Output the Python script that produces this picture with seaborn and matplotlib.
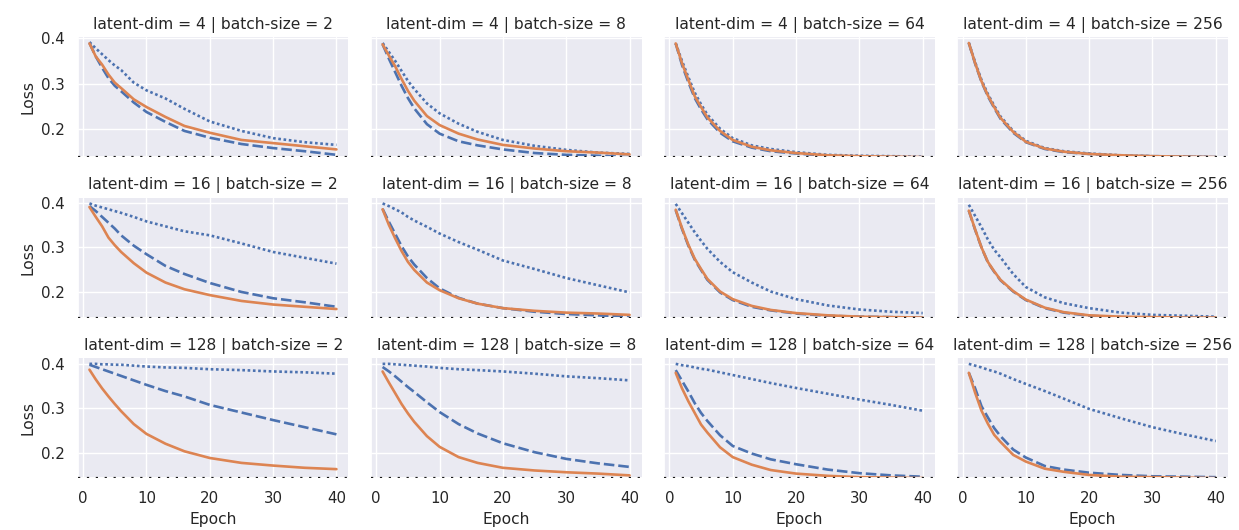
import matplotlib
matplotlib.use("Agg")
import pandas as pd
import seaborn as sns
import matplotlib.pyplot as plt

# values, one list per batch size (2, 8, 64, 256)
epochs = [1, 2, 3, 4, 5, 6, 8, 10, 13, 16, 20, 25, 30, 35, 40]
latent_dims = [4, 16, 128]
batch_sizes = [2, 8, 64, 256]
runs = ["dotted", "dashed", "solid"]

ld4_dotted = [
    [.392, .378, .365, .352, .340, .330, .302, .285, .267, .244, .216, .195, .179, .170, .164],
    [.390, .370, .350, .328, .306, .288, .256, .234, .211, .193, .175, .162, .153, .147, .144],
    [.389, .350, .314, .280, .254, .231, .200, .179, .163, .155, .148, .142, .140, .139, .138],
    [.390, .347, .308, .277, .251, .227, .195, .173, .157, .150, .145, .141, .139, .138, .137],
]
ld4_dashed = [
    [.390, .360, .335, .312, .295, .283, .258, .237, .215, .195, .180, .166, .157, .150, .142],
    [.387, .355, .325, .295, .268, .245, .210, .189, .172, .163, .154, .146, .142, .140, .137],
    [.389, .341, .303, .268, .243, .221, .191, .172, .158, .150, .145, .140, .138, .137, .136],
    [.390, .344, .304, .272, .246, .222, .191, .170, .155, .148, .144, .140, .139, .138, .137],
]
ld4_solid = [
    [.389, .360, .342, .320, .302, .290, .265, .248, .226, .206, .191, .175, .168, .161, .154],
    [.387, .362, .338, .310, .284, .262, .228, .208, .189, .176, .164, .156, .150, .147, .143],
    [.389, .345, .308, .272, .248, .225, .195, .175, .160, .152, .146, .141, .139, .138, .137],
    [.390, .345, .305, .274, .248, .224, .193, .171, .156, .149, .144, .141, .139, .138, .137],
]

ld16_dotted = [
    [.398, .393, .389, .385, .381, .377, .368, .358, .347, .336, .327, .309, .290, .277, .264],
    [.398, .392, .385, .378, .368, .360, .346, .331, .312, .295, .271, .252, .232, .216, .200],
    [.397, .376, .355, .334, .315, .297, .268, .245, .222, .202, .185, .171, .162, .157, .154],
    [.395, .370, .345, .318, .295, .278, .241, .212, .189, .176, .165, .155, .150, .148, .146],
]
ld16_dashed = [
    [.392, .381, .368, .355, .342, .327, .304, .285, .259, .241, .221, .201, .187, .178, .168],
    [.386, .357, .330, .303, .280, .262, .232, .209, .188, .175, .165, .157, .152, .149, .146],
    [.383, .341, .304, .273, .250, .228, .200, .183, .168, .160, .153, .148, .146, .145, .144],
    [.382, .339, .300, .267, .246, .227, .202, .183, .165, .155, .148, .145, .144, .144, .144],
]
ld16_solid = [
    [.390, .368, .347, .322, .305, .290, .265, .244, .222, .207, .194, .181, .173, .168, .163],
    [.385, .350, .320, .292, .268, .250, .222, .205, .187, .175, .165, .159, .155, .153, .150],
    [.384, .343, .306, .275, .252, .230, .202, .185, .170, .161, .154, .149, .146, .145, .144],
    [.382, .340, .300, .268, .247, .228, .203, .184, .166, .156, .149, .146, .145, .144, .144],
]

ld128_dotted = [
    [.400, .400, .399, .399, .398, .398, .396, .394, .392, .391, .388, .386, .383, .381, .378],
    [.400, .400, .399, .398, .397, .396, .394, .391, .388, .386, .383, .378, .372, .368, .363],
    [.400, .397, .395, .392, .389, .387, .381, .375, .366, .357, .346, .333, .320, .308, .295],
    [.400, .396, .392, .387, .383, .378, .366, .355, .339, .322, .299, .278, .258, .242, .227],
]
ld128_dashed = [
    [.398, .393, .388, .383, .378, .373, .363, .353, .339, .327, .308, .291, .274, .258, .242],
    [.393, .383, .372, .360, .348, .337, .314, .292, .265, .244, .222, .202, .187, .177, .169],
    [.386, .362, .338, .312, .290, .272, .240, .216, .199, .186, .175, .163, .155, .150, .147],
    [.380, .345, .305, .280, .256, .238, .208, .190, .171, .163, .156, .151, .148, .147, .146],
]
ld128_solid = [
    [.387, .365, .345, .327, .310, .294, .265, .243, .221, .204, .189, .178, .172, .167, .164],
    [.383, .358, .334, .310, .289, .270, .238, .214, .191, .178, .167, .161, .157, .154, .150],
    [.380, .345, .316, .290, .264, .246, .213, .191, .174, .162, .154, .149, .146, .145, .144],
    [.380, .335, .295, .266, .241, .225, .196, .181, .165, .158, .151, .147, .146, .145, .144],
]

# dotted black reference line per latent dim
min_loss = [0.137, 0.144, 0.144]

curves = {
    4: [ld4_dotted, ld4_dashed, ld4_solid],
    16: [ld16_dotted, ld16_dashed, ld16_solid],
    128: [ld128_dotted, ld128_dashed, ld128_solid],
}

records = []
for ld in latent_dims:
    for run, per_bs in zip(runs, curves[ld]):
        for bs, values in zip(batch_sizes, per_bs):
            for ep, loss in zip(epochs, values):
                records.append({"latent-dim": ld, "batch-size": bs, "run": run,
                                "Epoch": ep, "Loss": loss})
df = pd.DataFrame(records)

sns.set_theme(style="darkgrid")
plt.rcParams.update({
    "axes.titlesize": 11.8,
    "axes.labelsize": 11.2,
    "xtick.labelsize": 10.8,
    "ytick.labelsize": 10.8,
})

palette = {"dotted": "#4c72b0", "dashed": "#4c72b0", "solid": "#dd8452"}
dashes = {"dotted": (1, 1), "dashed": (4, 1.5), "solid": ""}

g = sns.FacetGrid(df, row="latent-dim", col="batch-size", row_order=latent_dims,
                  col_order=batch_sizes, sharey="row", height=1.3, aspect=2.2)
g.map_dataframe(sns.lineplot, x="Epoch", y="Loss", hue="run", style="run",
                hue_order=runs, style_order=runs, palette=palette, dashes=dashes,
                linewidth=1.9)

y_top = [0.403, 0.411, 0.413]
for i, ld in enumerate(latent_dims):
    for ax in g.axes[i]:
        ax.axhline(min_loss[i], color="k", ls=(0, (1, 3)), lw=1.6, zorder=5)
        ax.set_ylim(min_loss[i], y_top[i])
        ax.set_yticks([0.2, 0.3, 0.4])
        ax.set_xlim(-0.8, 41.9)
        ax.set_xticks([0, 10, 20, 30, 40])

g.set_titles("{row_var} = {row_name} | {col_var} = {col_name}")
g.set_axis_labels("Epoch", "Loss")

fig = g.figure
fig.set_size_inches(12.39, 5.30)
fig.subplots_adjust(left=0.063, right=0.991, top=0.930, bottom=0.098,
                    wspace=0.084, hspace=0.3375)
fig.savefig("out.png", dpi=100)
